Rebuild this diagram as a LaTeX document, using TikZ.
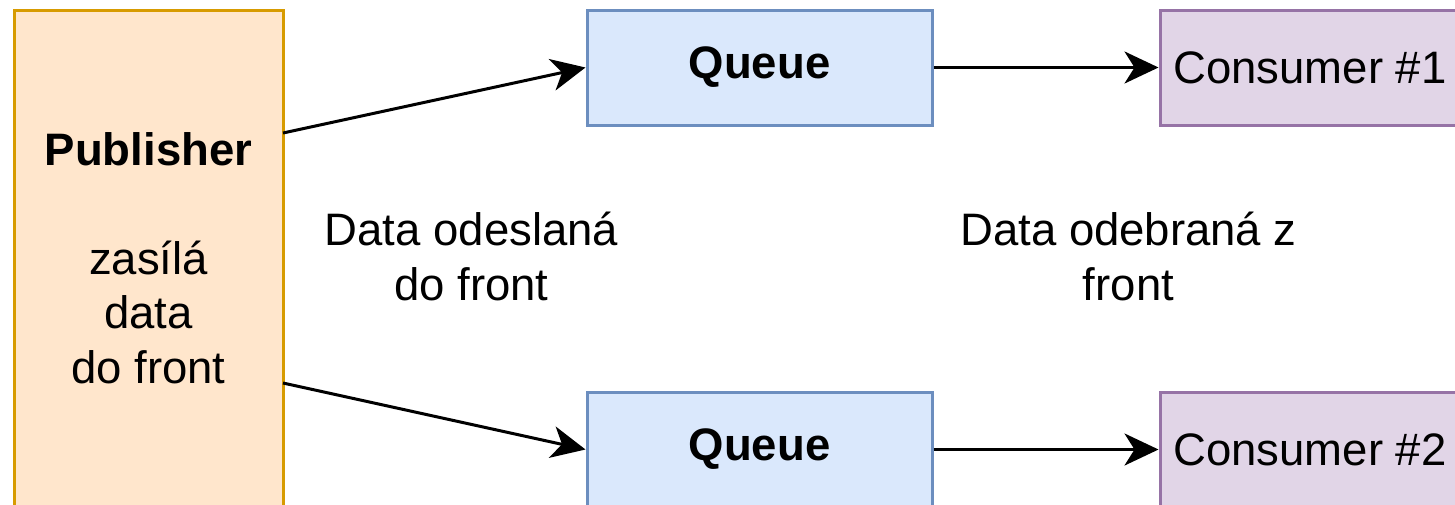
\documentclass[tikz,border=0pt]{standalone}
\usepackage{fontspec}
\setmainfont{Liberation Sans}
\usetikzlibrary{arrows.meta}
\definecolor{pubfill}{HTML}{FFE6CC}
\definecolor{pubdraw}{HTML}{D79B00}
\definecolor{qfill}{HTML}{DAE8FC}
\definecolor{qdraw}{HTML}{6C8EBF}
\definecolor{cfill}{HTML}{E1D5E7}
\definecolor{cdraw}{HTML}{9673A6}
\tikzset{
  boxbase/.style={rectangle, line width=3pt, inner sep=0pt, font=\fontsize{45.5}{54.5}\selectfont, align=center},
  pubbox/.style={boxbase, fill=pubfill, draw=pubdraw, minimum width=269pt, minimum height=498pt},
  queuebox/.style={boxbase, fill=qfill, draw=qdraw, minimum width=345pt, minimum height=115pt, font=\fontsize{45.5}{54.5}\selectfont\bfseries},
  consbox/.style={boxbase, fill=cfill, draw=cdraw, minimum width=300pt, minimum height=115pt},
  lbl/.style={inner sep=0pt, align=center, font=\fontsize{45.5}{55}\selectfont},
  conn/.style={line width=3pt, -{Stealth[length=34pt, width=32pt, inset=10pt]}}
}
\begin{document}
\begin{tikzpicture}[x=1pt, y=-1pt]
\useasboundingbox (0,0) rectangle (1455,504);
\clip (0,0) rectangle (1455,504);
\node[pubbox] (pub) at (148.5,259) {};
\node[lbl, font=\fontsize{45.5}{54.5}\selectfont] (pubtxt) at (148.5,258) {\textbf{Publisher}\\[54.5pt]zasílá\\data\\do front};
\node[queuebox] (q1) at (759.5,67.5) {Queue};
\node[queuebox] (q2) at (759.5,449.5) {Queue};
\node[consbox] (c1) at (1310,67.5) {Consumer \#1};
\node[consbox] (c2) at (1310,449.5) {Consumer \#2};
\node[lbl] (l1) at (471.5,256) {Data odeslaná\\do front};
\node[lbl] (l2) at (1128.5,256) {Data odebraná z\\front};
\coordinate (p1) at (283,133);
\coordinate (p2) at (283,383);
\draw[conn] (p1) -- (q1.west);
\draw[conn] (p2) -- (q2.west);
\draw[conn] (q1.east) -- (c1.west);
\draw[conn] (q2.east) -- (c2.west);
\end{tikzpicture}
\end{document}
